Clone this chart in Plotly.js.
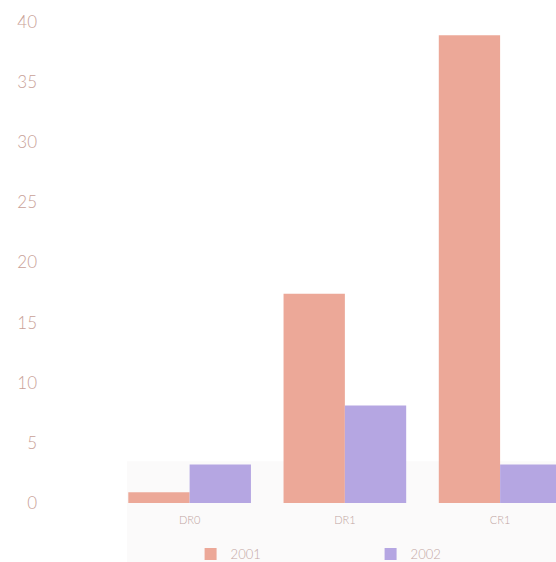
<!DOCTYPE html>
<html>
<head>
<meta charset="utf-8">
<script src="https://cdn.plot.ly/plotly-3.0.1.min.js"></script>
<style>html,body{margin:0;padding:0;background:#fff;}#chart{width:556px;height:562px;}</style>
</head>
<body>
<div id="chart"></div>
<script>
const categories = ["DR0", "DR1", "CR1"];
const values2001 = [0.9, 17.4, 38.9];
const values2002 = [3.2, 8.1, 3.2];
const seriesNames = ["2001", "2002"];
const yTicks = [0, 5, 10, 15, 20, 25, 30, 35, 40];

const traces = [
  {type: "bar", x: categories, y: values2001, name: seriesNames[0],
   marker: {color: "#eca898"}, hoverinfo: "none"},
  {type: "bar", x: categories, y: values2002, name: seriesNames[1],
   marker: {color: "#b5a6e2"}, hoverinfo: "none"}
];

const layout = {
  width: 556, height: 562,
  margin: {l: 112, r: 0, t: 22, b: 59, autoexpand: false},
  paper_bgcolor: "#ffffff",
  plot_bgcolor: "rgba(0,0,0,0)",
  barmode: "group",
  bargap: 0.21,
  bargroupgap: 0,
  font: {family: "Lato, 'Open Sans', sans-serif", weight: 300},
  xaxis: {
    type: "category",
    range: [-0.5, 2.36],
    showgrid: false, zeroline: false, showline: false,
    ticks: "", ticklabelstandoff: 9,
    tickfont: {size: 11, color: "#bfa5a2", family: "Lato, sans-serif", weight: 300}
  },
  yaxis: {
    range: [0, 40],
    tickvals: yTicks,
    ticktext: yTicks.map(String),
    showgrid: false, zeroline: false, showline: false,
    ticks: "",
    ticklabelstandoff: 74,
    tickfont: {size: 17, color: "#c9a197", family: "Lato, sans-serif", weight: 300}
  },
  showlegend: true,
  legend: {
    orientation: "h",
    x: 0.177, xanchor: "left",
    y: -0.106, yanchor: "middle",
    entrywidth: 135, entrywidthmode: "pixels",
    itemwidth: 30,
    font: {size: 13, color: "#c4a8a4", family: "Lato, sans-serif", weight: 300},
    bgcolor: "rgba(0,0,0,0)"
  },
  shapes: [{
    type: "rect", xref: "paper", yref: "paper", layer: "below",
    x0: 0.034, x1: 1.0, y0: -0.125, y1: 0.087,
    fillcolor: "#fbfafa", line: {width: 0}
  }]
};

Plotly.newPlot("chart", traces, layout, {displayModeBar: false, staticPlot: true});
</script>
</body>
</html>
